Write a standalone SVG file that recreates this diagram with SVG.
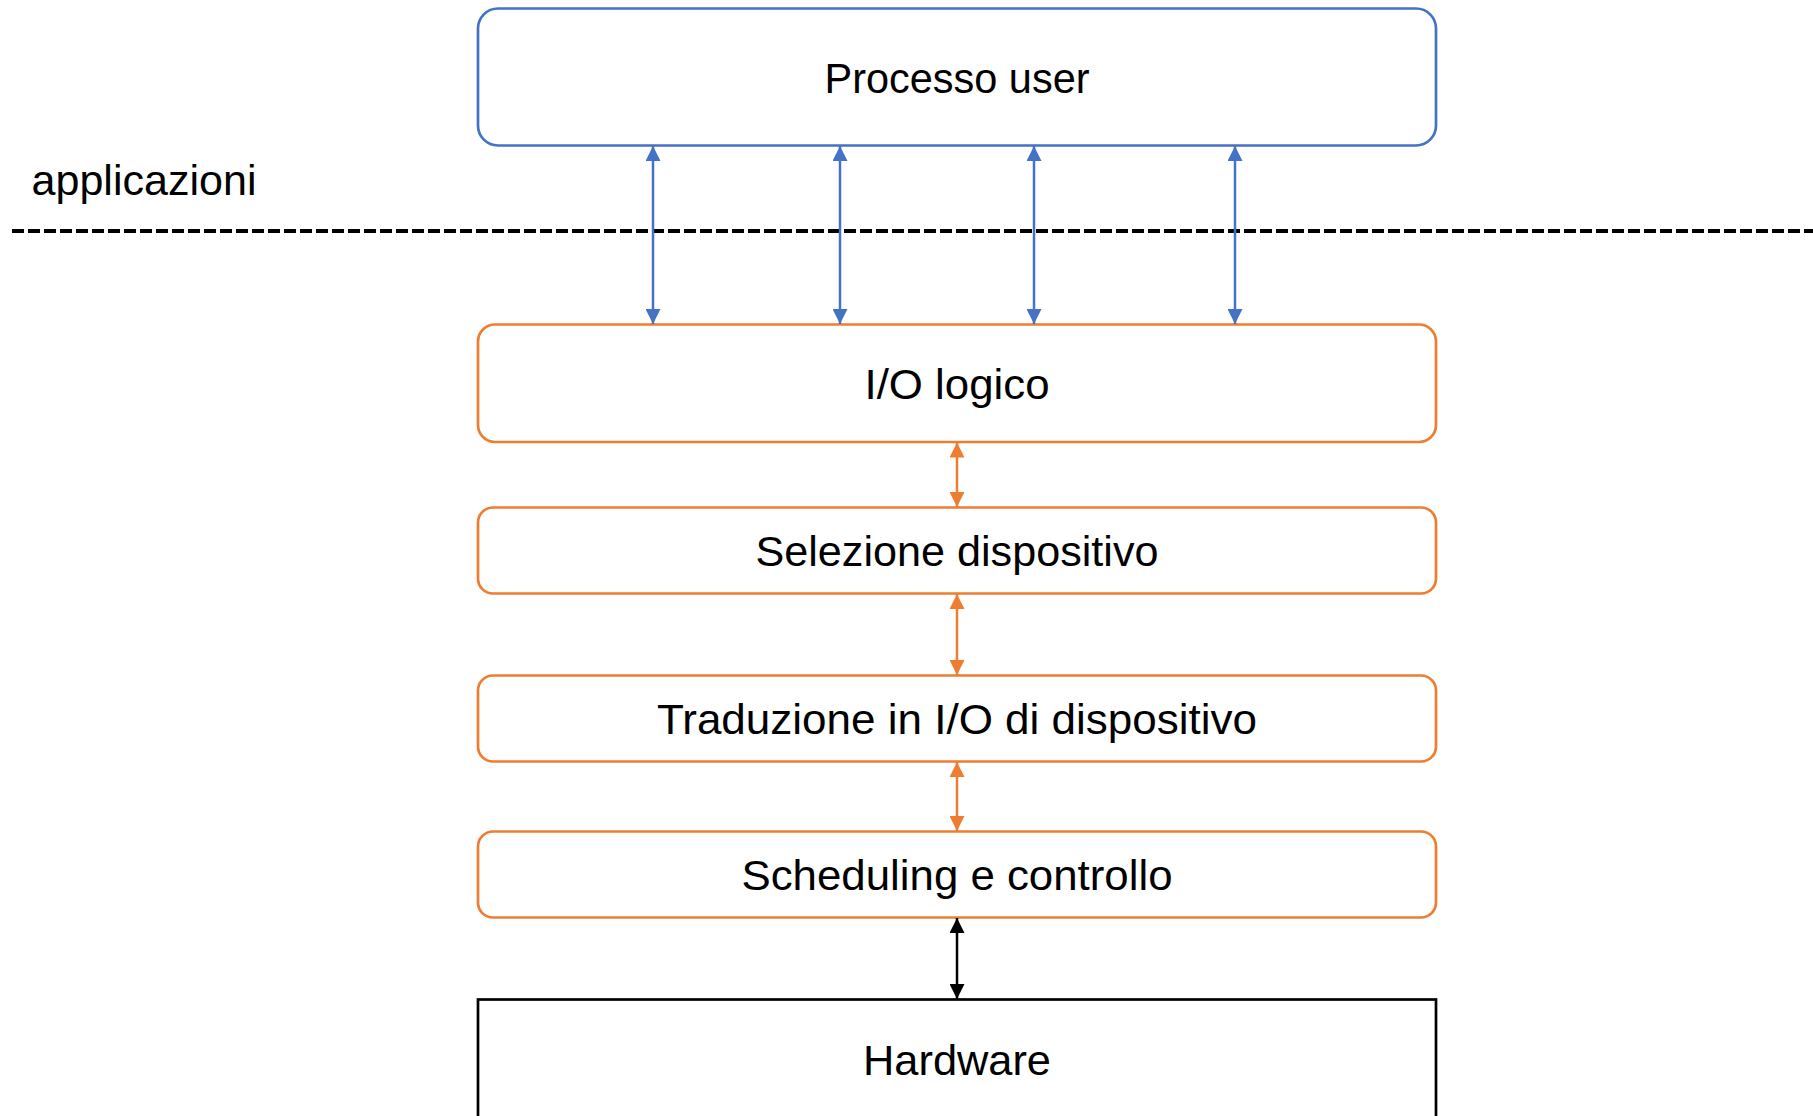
<svg xmlns="http://www.w3.org/2000/svg" width="1813" height="1116" viewBox="0 0 1813 1116">
<style>
.t{font-family:"Liberation Sans",Arial,sans-serif;font-size:42px;fill:#000;text-anchor:middle}
.blue{fill:#fff;stroke:#4472C4;stroke-width:2.7}
.orange{fill:#fff;stroke:#ED7D31;stroke-width:2.7}
.hw{fill:#fff;stroke:#000;stroke-width:2.7}
.cb{stroke:#4472C4;stroke-width:2.5;fill:none;marker-start:url(#ab);marker-end:url(#ab)}
.co{stroke:#ED7D31;stroke-width:2.5;fill:none;marker-start:url(#ao);marker-end:url(#ao)}
.ck{stroke:#000;stroke-width:2.5;fill:none;marker-start:url(#ak);marker-end:url(#ak)}
</style>
<defs>
<marker id="ab" viewBox="0 0 15 15" refX="15" refY="7.5" markerWidth="15" markerHeight="15" markerUnits="userSpaceOnUse" orient="auto-start-reverse"><path d="M0,0 L15,7.5 L0,15 z" fill="#4472C4"/></marker>
<marker id="ao" viewBox="0 0 15 15" refX="15" refY="7.5" markerWidth="15" markerHeight="15" markerUnits="userSpaceOnUse" orient="auto-start-reverse"><path d="M0,0 L15,7.5 L0,15 z" fill="#ED7D31"/></marker>
<marker id="ak" viewBox="0 0 15 15" refX="15" refY="7.5" markerWidth="15" markerHeight="15" markerUnits="userSpaceOnUse" orient="auto-start-reverse"><path d="M0,0 L15,7.5 L0,15 z" fill="#000"/></marker>
</defs>
<rect width="1813" height="1116" fill="#fff"/>
<g id="divider">
<line x1="12" y1="231" x2="1813" y2="231" stroke="#000" stroke-width="4" stroke-dasharray="12 4"/>
<text class="t" x="31.5" y="195" style="text-anchor:start" textLength="225" lengthAdjust="spacingAndGlyphs">applicazioni</text>
</g>
<g id="processo-user">
<rect class="blue" x="478" y="8.5" width="958" height="137" rx="20"/>
<text class="t" x="957" y="93" textLength="265" lengthAdjust="spacingAndGlyphs">Processo user</text>
</g>
<g id="io-logico">
<rect class="orange" x="478" y="324.5" width="958" height="117.5" rx="17"/>
<text class="t" x="957" y="399" textLength="185" lengthAdjust="spacingAndGlyphs">I/O logico</text>
</g>
<g id="selezione">
<rect class="orange" x="478" y="507.5" width="958" height="86" rx="15"/>
<text class="t" x="957" y="566" textLength="403" lengthAdjust="spacingAndGlyphs">Selezione dispositivo</text>
</g>
<g id="traduzione">
<rect class="orange" x="478" y="675.5" width="958" height="86" rx="15"/>
<text class="t" x="957" y="734" textLength="600" lengthAdjust="spacingAndGlyphs">Traduzione in I/O di dispositivo</text>
</g>
<g id="scheduling">
<rect class="orange" x="478" y="831.5" width="958" height="86" rx="15"/>
<text class="t" x="957" y="890" textLength="431" lengthAdjust="spacingAndGlyphs">Scheduling e controllo</text>
</g>
<g id="hardware">
<rect class="hw" x="478" y="999.5" width="958" height="140"/>
<text class="t" x="957" y="1075" textLength="188" lengthAdjust="spacingAndGlyphs">Hardware</text>
</g>
<g id="connectors">
<line class="cb" x1="653" y1="146" x2="653" y2="324"/>
<line class="cb" x1="840" y1="146" x2="840" y2="324"/>
<line class="cb" x1="1034" y1="146" x2="1034" y2="324"/>
<line class="cb" x1="1235" y1="146" x2="1235" y2="324"/>
<line class="co" x1="957" y1="442.5" x2="957" y2="507"/>
<line class="co" x1="957" y1="594" x2="957" y2="675"/>
<line class="co" x1="957" y1="762" x2="957" y2="831"/>
<line class="ck" x1="957" y1="918" x2="957" y2="999"/>
</g>
</svg>
